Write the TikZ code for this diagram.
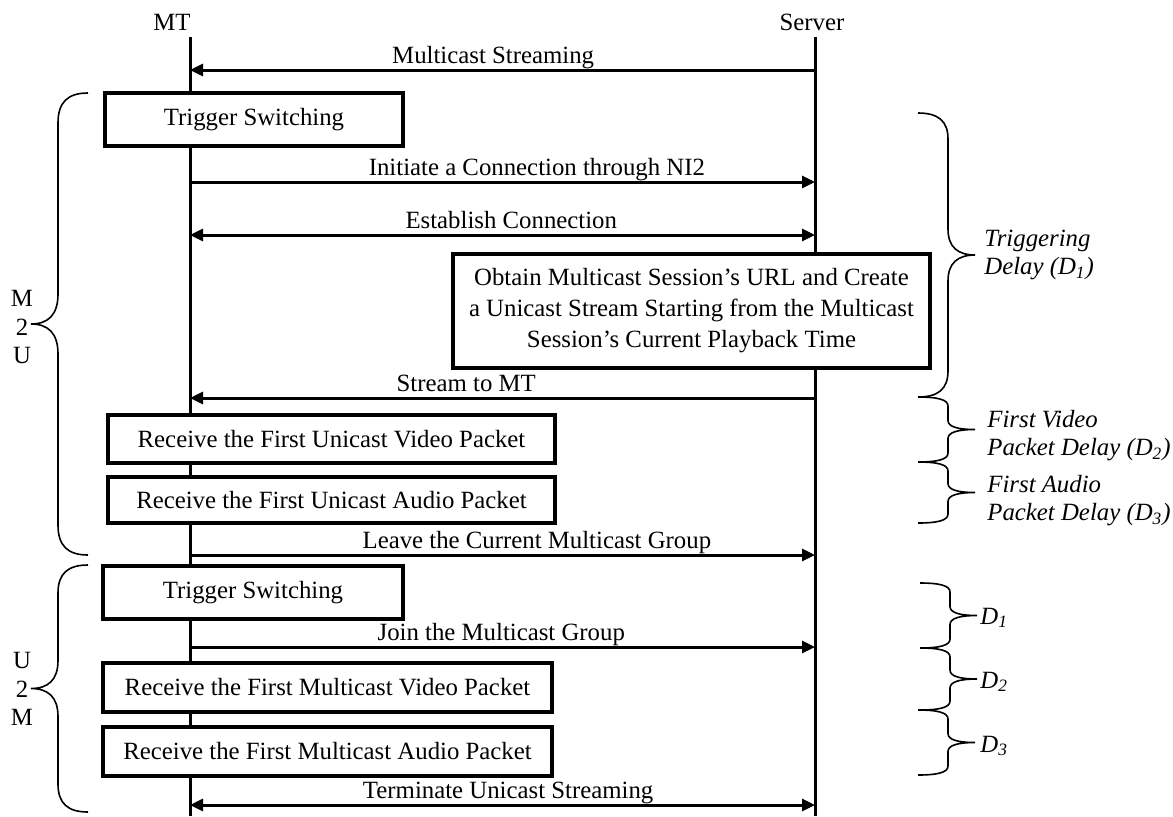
\documentclass[tikz,border=0pt]{standalone}
\usepackage{fontspec}
\setmainfont{Liberation Serif}
\usepackage{tikz}
\usetikzlibrary{arrows.meta}

% curly brace: x of the ends, top, bottom, curl size, side (1 = right, -1 = left)
\newcommand{\sidebrace}[5]{%
  \draw[brc] (#1,#2) .. controls ({#1+(#5)*20},#2) and ({#1+(#5)*30},{#2+0.3*(#4)}) .. ({#1+(#5)*30},{#2+#4})
    -- ({#1+(#5)*30},{(#2+#3)/2-(#4)})
    .. controls ({#1+(#5)*30},{(#2+#3)/2-0.3*(#4)}) and ({#1+(#5)*40},{(#2+#3)/2}) .. ({#1+(#5)*57},{(#2+#3)/2})
    .. controls ({#1+(#5)*40},{(#2+#3)/2}) and ({#1+(#5)*30},{(#2+#3)/2+0.3*(#4)}) .. ({#1+(#5)*30},{(#2+#3)/2+#4})
    -- ({#1+(#5)*30},{#3-(#4)})
    .. controls ({#1+(#5)*30},{#3-0.3*(#4)}) and ({#1+(#5)*20},#3) .. (#1,#3);}

\begin{document}
\begin{tikzpicture}[x=0.5pt, y=-0.5pt, font=\fontsize{12.4}{15.5}\selectfont,
    box/.style={draw, line width=1.6pt, fill=white, inner sep=0pt, align=center},
    life/.style={line width=1.5pt},
    msg/.style={line width=1.5pt, -{Triangle[length=6.5pt,width=6pt]}},
    dmsg/.style={line width=1.5pt, {Triangle[length=6.5pt,width=6pt]}-{Triangle[length=6.5pt,width=6pt]}},
    lbl/.style={anchor=base, yshift=3.5pt, inner sep=0pt},
    brc/.style={line width=0.8pt},
    side/.style={align=center, inner sep=0pt, font=\fontsize{12.4}{14.3}\selectfont},
    delay/.style={anchor=west, inner sep=0pt, align=left, font=\fontsize{12.4}{14}\selectfont\itshape}]
\useasboundingbox (0,0) rectangle (1173,816);

% lifelines
\node (mt) at (172,22) {MT};
\node (sv) at (812,22) {Server};
\coordinate (mt top) at (190,37);
\coordinate (mt end) at (190,816);
\coordinate (sv top) at (815,37);
\coordinate (sv end) at (815,816);
\draw[life] (mt top) -- (mt end);
\draw[life] (sv top) -- (sv end);

% boxes
\node[box, minimum width=149pt, minimum height=26.5pt] (trig1) at (254,119.5) {Trigger Switching};
\node[box, minimum width=238.5pt, minimum height=57pt] (obtain) at (691.5,311)
    {Obtain Multicast Session’s URL and Create\\a Unicast Stream Starting from the Multicast\\Session’s Current Playback Time};
\node[box, minimum width=223.5pt, minimum height=24pt] (uvid) at (331.5,439) {Receive the First Unicast Video Packet};
\node[box, minimum width=223.5pt, minimum height=23pt] (uaud) at (331.5,500) {Receive the First Unicast Audio Packet};
\node[box, minimum width=150pt, minimum height=26.5pt] (trig2) at (253,592.5) {Trigger Switching};
\node[box, minimum width=224.5pt, minimum height=24.5pt] (mvid) at (327.5,687.5) {Receive the First Multicast Video Packet};
\node[box, minimum width=224.5pt, minimum height=24.5pt] (maud) at (327.5,751.5) {Receive the First Multicast Audio Packet};

% messages
\coordinate (mt1) at (190,70);  \coordinate (sv1) at (815,70);
\coordinate (mt2) at (190,182); \coordinate (sv2) at (815,182);
\coordinate (mt3) at (190,235); \coordinate (sv3) at (815,235);
\coordinate (mt4) at (190,398); \coordinate (sv4) at (815,398);
\coordinate (mt5) at (190,555); \coordinate (sv5) at (815,555);
\coordinate (mt6) at (190,647); \coordinate (sv6) at (815,647);
\coordinate (mt7) at (190,805); \coordinate (sv7) at (815,805);
\draw[msg] (sv1) -- node[lbl, pos=.515] {Multicast Streaming} (mt1);
\draw[msg] (mt2) -- node[lbl, pos=.555] {Initiate a Connection through NI2} (sv2);
\draw[dmsg] (mt3) -- node[lbl, pos=.514] {Establish Connection} (sv3);
\draw[msg] (sv4) -- node[lbl, pos=.558] {Stream to MT} (mt4);
\draw[msg] (mt5) -- node[lbl, pos=.555] {Leave the Current Multicast Group} (sv5);
\draw[msg] (mt6) -- node[lbl, pos=.498] {Join the Multicast Group} (sv6);
\draw[dmsg] (mt7) -- node[lbl, pos=.509] {Terminate Unicast Streaming} (sv7);

% phases
\sidebrace{88}{93}{555}{30}{-1}
\sidebrace{88}{565}{812}{28}{-1}
\node[side] (m2u) at (22,327) {M\\2\\U};
\node[side] (u2m) at (22,689) {U\\2\\M};

% delays
\sidebrace{918}{113}{397}{26}{1}
\sidebrace{918}{397}{462}{9}{1}
\sidebrace{918}{462}{523}{9}{1}
\sidebrace{920}{583}{648}{9}{1}
\sidebrace{920}{648}{710}{9}{1}
\sidebrace{918}{710}{775}{9}{1}
\node[delay] (trigd) at (984,255) {Triggering\\Delay (D\textsubscript{1})};
\node[delay] (vidd) at (987,436) {First Video\\Packet Delay (D\textsubscript{2})};
\node[delay] (audd) at (987,501) {First Audio\\Packet Delay (D\textsubscript{3})};
\node[delay] (d1) at (980,618) {D\textsubscript{1}};
\node[delay] (d2) at (980,682) {D\textsubscript{2}};
\node[delay] (d3) at (980,746) {D\textsubscript{3}};
\end{tikzpicture}
\end{document}
